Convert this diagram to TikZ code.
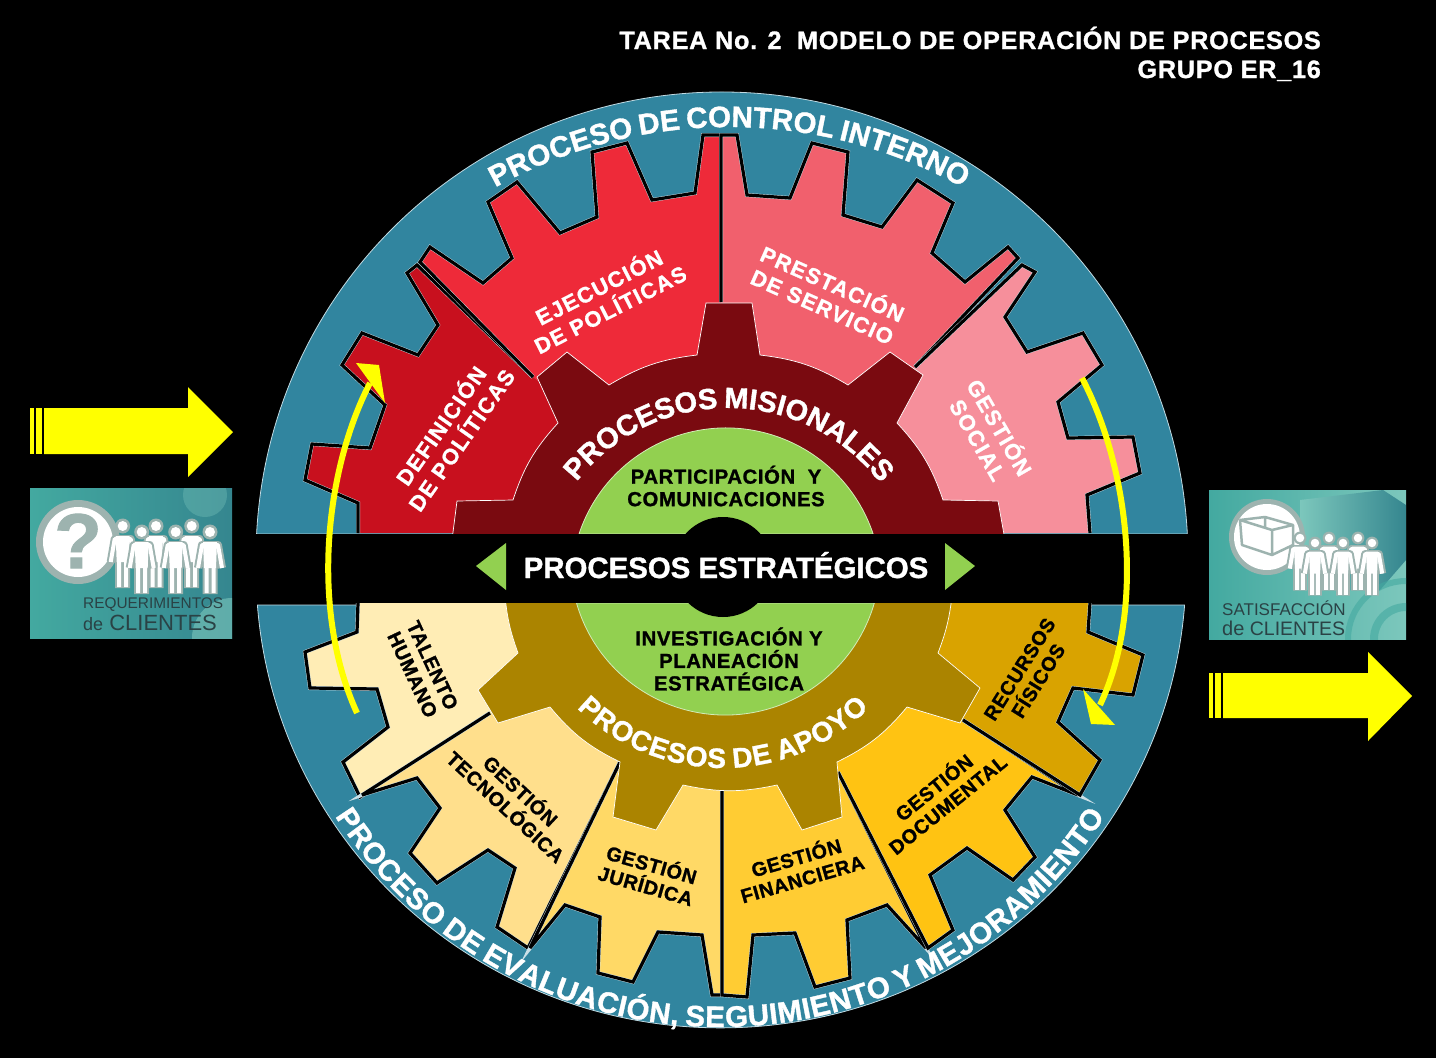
\documentclass[tikz,border=0pt]{standalone}
\usepackage{fontspec}
\setmainfont{Liberation Sans}[BoldFeatures={FakeBold=1.2}]
\newfontfamily\spacedfont{Liberation Sans}[LetterSpace=6,BoldFeatures={FakeBold=1.2}]
\newfontfamily\tinyspaced{Liberation Sans}[LetterSpace=3,BoldFeatures={FakeBold=1.2}]
\usetikzlibrary{decorations.text}
\definecolor{ringteal}{HTML}{31859F}
\definecolor{defred}{HTML}{C8101E}
\definecolor{ejered}{HTML}{EE2A39}
\definecolor{presred}{HTML}{F1606D}
\definecolor{socialred}{HTML}{F68F9B}
\definecolor{misionred}{HTML}{7A0A10}
\definecolor{coregreen}{HTML}{92D050}
\definecolor{apoyobrown}{HTML}{AB8400}
\definecolor{talentocol}{HTML}{FFEDB5}
\definecolor{tecnocol}{HTML}{FFDF8C}
\definecolor{juridcol}{HTML}{FFD966}
\definecolor{financol}{HTML}{FFCC33}
\definecolor{documcol}{HTML}{FFC312}
\definecolor{recurcol}{HTML}{D9A300}
\definecolor{arrowyellow}{HTML}{FFFF00}
\definecolor{boxteal}{HTML}{43A9A0}
\definecolor{boxdark}{HTML}{35868F}
\definecolor{boxlight}{HTML}{7CC7BC}
\definecolor{halogray}{HTML}{9DB3AF}
\definecolor{boxtext}{HTML}{2A4245}
\newcommand{\gearpiece}[3]{\fill[#1] #2 -- #3 -- cycle; \draw[toothline] #2;}
\newcommand{\ns}{\fontsize{21}{21}\selectfont}
\newcommand{\curvedtext}[4]{\def\cf{\fontsize{#1}{#1}\selectfont\bfseries}\path[decorate,decoration={text along path,text align={fit to path},text color=white,text={#2}}] #3 #4;}
\begin{document}
\begin{tikzpicture}
	[x=1pt,y=1pt,
		toothline/.style={draw=black,line width=3.2pt,line join=miter,miter limit=2,preaction={draw=white!75!ringteal,line width=4pt}},
		gearhub/.style={draw=white,line width=0.7pt,line join=miter},
		whitelabel/.style={align=center,text=white,inner sep=0pt,font=\spacedfont\bfseries\fontsize{22}{25}\selectfont},
		blacklabel/.style={align=center,text=black,inner sep=0pt,font=\tinyspaced\bfseries\fontsize{19.8}{22}\selectfont},
		corelabel/.style={align=center,text=black,inner sep=0pt,font=\tinyspaced\bfseries\fontsize{20.3}{22.5}\selectfont},
		titlelabel/.style={anchor=base east,text=white,inner sep=0pt,font=\tinyspaced\bfseries\fontsize{25.2}{29}\selectfont},
		boxlabel/.style={anchor=base west,text=boxtext,inner sep=0pt},
		curvearrow/.style={draw=arrowyellow,line width=6pt},
		persona/.pic={
			\fill[halogray] (0,0) circle (7.5);
			\draw[halogray,line width=8pt,line join=round] (-12,-36) -- (-8,-13) -- (8,-13) -- (12,-36) (-3.5,-13) -- (-3.5,-62) (3.5,-13) -- (3.5,-62);
			\fill[white] (0,0) circle (5);
			\fill[white] (-7,-10) -- (7,-10) -- (6,-36) -- (-6,-36) -- cycle;
			\draw[white,line width=4pt,line join=round] (-12,-36) -- (-8,-13) -- (8,-13) -- (12,-36) (-3.5,-30) -- (-3.5,-61) (3.5,-30) -- (3.5,-61);
		},
	]
	\fill[black] (0,0) rectangle (1436,-1058);
	\useasboundingbox (0,0) rectangle (1436,-1058);

	\filldraw[fill=ringteal,draw=white!70!ringteal,line width=0.8pt] (256.6,-534) arc[start angle=177.05,end angle=2.95,radius=466] -- cycle;
	\filldraw[fill=ringteal,draw=white!70!ringteal,line width=0.8pt] (257.4,-605) arc[start angle=184.4,end angle=355.6,x radius=465,y radius=458] -- cycle;

	\gearpiece{defred}{(358,-533) -- (358,-503) -- (305,-480) -- (312,-444) -- (370,-448) -- (385,-405) -- (342,-365) -- (362,-333) -- (418,-355) -- (438,-325) -- (407,-273) -- (417,-265) -- (533,-377)}{(728,-533)}
	\gearpiece{ejered}{(721,-302) -- (721,-135) -- (703,-135) -- (695,-193) -- (652,-200) -- (627,-143) -- (592,-152) -- (597,-217) -- (560,-233) -- (517,-182) -- (488,-202) -- (512,-258) -- (483,-283) -- (430,-247) -- (420,-262) -- (533,-377)}{(728,-533)}
	\gearpiece{presred}{(721,-302) -- (721,-135) -- (737,-135) -- (747,-195) -- (790,-198) -- (812,-143) -- (848,-152) -- (843,-215) -- (882,-227) -- (917,-180) -- (953,-203) -- (932,-253) -- (965,-282) -- (1008,-247) -- (1018,-258) -- (915,-367)}{(728,-533)}
	\gearpiece{socialred}{(915,-367) -- (1022,-265) -- (1035,-272) -- (1005,-317) -- (1027,-352) -- (1083,-333) -- (1102,-365) -- (1058,-402) -- (1068,-438) -- (1133,-437) -- (1140,-473) -- (1087,-495) -- (1090,-533)}{(728,-533)}

	\gearpiece{talentocol}{(358,-603) -- (357,-632) -- (305,-652) -- (310,-688) -- (377,-689) -- (388,-727) -- (343,-762) -- (360,-797) -- (490,-713)}{(728,-603)}
	\gearpiece{tecnocol}{(620,-762) -- (528,-948) -- (497,-927) -- (515,-868) -- (488,-850) -- (437,-883) -- (410,-853) -- (440,-808) -- (417,-778) -- (362,-795) -- (490,-713)}{(728,-603)}
	\gearpiece{juridcol}{(722,-790) -- (722,-995) -- (712,-995) -- (702,-935) -- (658,-932) -- (633,-982) -- (598,-973) -- (600,-917) -- (565,-905) -- (530,-948) -- (620,-762)}{(728,-603)}
	\gearpiece{financol}{(722,-790) -- (722,-995) -- (747,-997) -- (753,-935) -- (795,-933) -- (815,-987) -- (850,-978) -- (847,-920) -- (887,-905) -- (926,-948) -- (838,-772)}{(728,-603)}
	\gearpiece{documcol}{(838,-772) -- (928,-948) -- (953,-930) -- (930,-875) -- (967,-848) -- (1013,-880) -- (1035,-857) -- (1005,-810) -- (1032,-777) -- (1078,-795) -- (963,-720)}{(728,-603)}
	\gearpiece{recurcol}{(963,-720) -- (1080,-795) -- (1100,-760) -- (1058,-722) -- (1073,-688) -- (1133,-695) -- (1143,-655) -- (1088,-632) -- (1090,-603)}{(728,-603)}

	\filldraw[fill=misionred,gearhub] (452,-540) -- (457,-501) -- (513,-500) to[bend left=12] (558,-423) -- (537,-377) -- (567,-352) -- (609,-385) to[bend left=12] (697,-355) -- (706,-303) -- (752,-303) -- (760,-355) to[bend left=12] (848,-385) -- (890,-352) -- (923,-375) -- (897,-423) to[bend left=12] (943,-500) -- (998,-501) -- (1005,-540) -- cycle;
	\filldraw[fill=apoyobrown,gearhub] (505,-596) to[bend right=7] (518,-653) -- (478,-690) -- (498,-723) -- (550,-707) to[bend right=12] (620,-762) -- (613,-817) -- (656,-830) -- (683,-785) to[bend right=12] (777,-785) -- (802,-830) -- (842,-817) -- (837,-762) to[bend right=12] (907,-707) -- (960,-723) -- (980,-688) -- (938,-653) to[bend left=-7] (952,-596) -- cycle;

	\filldraw[fill=coregreen,draw=white!60!coregreen,line width=0.8pt] (579,-534) arc[start angle=161.6,end angle=18.4,radius=155] -- cycle;
	\filldraw[fill=coregreen,draw=white!60!coregreen,line width=0.8pt] (576.5,-603) arc[start angle=196.1,end angle=343.9,radius=155] -- cycle;
	\fill[black] (723,-567) circle (50);
	\fill[black] (0,-534) rectangle (1436,-603);
	\fill[black] (0,-603) rectangle (257,-606);
	\fill[black] (1185,-603) rectangle (1436,-606);

	\fill[coregreen] (476,-566) -- (506,-543) -- (506,-590) -- cycle;
	\fill[coregreen] (975,-566) -- (945,-543) -- (945,-590) -- cycle;
	\node[anchor=base,text=white,inner sep=0pt,font=\bfseries\fontsize{29.4}{31}\selectfont] (estrategicos) at (726,-578) {PROCESOS ESTRATÉGICOS};

	\curvedtext{29.5}{|\cf|PROCESO|\ns| |\cf|DE|\ns| |\cf|CONTROL|\ns| |\cf|INTERNO}{([shift={(119:482)}]729,-609)}{arc[start angle=119,end angle=61,radius=482]}
	\curvedtext{29.5}{|\cf|PROCESO|\ns| |\cf|DE|\ns| |\cf|EVALUACIÓN,|\ns| |\cf|SEGUIMIENTO|\ns| |\cf|Y|\ns| |\cf|MEJORAMIENTO}{([shift={(212.6:457)}]720,-570)}{arc[start angle=212.6,end angle=327.4,radius=457]}
	\curvedtext{29}{|\cf|PROCESOS|\ns| |\cf|MISIONALES}{([shift={(142:192)}]728,-600)}{arc[start angle=142,end angle=38,radius=192]}
	\curvedtext{28}{|\cf|PROCESOS|\ns| |\cf|DE|\ns| |\cf|APOYO}{([shift={(225.4:208)}]723,-560)}{arc[start angle=225.4,end angle=314.6,radius=208]}

	\node[whitelabel,rotate=55] (definicion) at (450,-432) {DEFINICIÓN\\DE POLÍTICAS};
	\node[whitelabel,rotate=27] (ejecucion) at (604,-297) {EJECUCIÓN\\DE POLÍTICAS};
	\node[whitelabel,rotate=-24] (prestacion) at (828,-294) {PRESTACIÓN\\DE SERVICIO};
	\node[whitelabel,rotate=-60] (social) at (990,-433) {GESTIÓN\\SOCIAL};

	\node[blacklabel,rotate=-65] (talento) at (422.5,-670) {TALENTO\\HUMANO};
	\node[blacklabel,rotate=-43] (tecno) at (514,-798) {GESTIÓN\\TECNOLÓGICA};
	\node[blacklabel,rotate=-16] (juridica) at (649,-874) {GESTIÓN\\JURÍDICA};
	\node[blacklabel,rotate=16] (financiera) at (799,-867) {GESTIÓN\\FINANCIERA};
	\node[blacklabel,rotate=39] (documental) at (940,-795) {GESTIÓN\\DOCUMENTAL};
	\node[blacklabel,rotate=58] (recursos) at (1029,-675) {RECURSOS\\FÍSICOS};

	\node[corelabel] (participa) at (726,-486) {PARTICIPACIÓN~~Y\\COMUNICACIONES};
	\node[corelabel] (investiga) at (729,-659) {INVESTIGACIÓN Y\\PLANEACIÓN\\ESTRATÉGICA};

	\node[titlelabel] (tarea) at (1321,-49) {TAREA No. 2~~MODELO DE OPERACIÓN DE PROCESOS};
	\node[titlelabel] (grupo) at (1321,-78) {GRUPO ER\_16};

	\draw[curvearrow] (357,-713) .. controls (310,-610) and (325,-470) .. (370,-383);
	\fill[arrowyellow] (356,-363) -- (379,-365) -- (385,-403) -- cycle;
	\draw[curvearrow] (1082,-378) .. controls (1130,-470) and (1145,-610) .. (1100,-705);
	\fill[arrowyellow] (1083,-689) -- (1115,-725) -- (1091,-724) -- cycle;

	\fill[arrowyellow] (30,-408) rectangle (34,-454);
	\fill[arrowyellow] (36,-408) rectangle (42,-454);
	\fill[arrowyellow] (44,-408) -- (188,-408) -- (188,-387) -- (233,-432) -- (188,-477) -- (188,-454) -- (44,-454) -- cycle;
	\fill[arrowyellow] (1209,-673) rectangle (1213,-718);
	\fill[arrowyellow] (1215,-673) rectangle (1221,-718);
	\fill[arrowyellow] (1223,-673) -- (1368,-673) -- (1368,-652) -- (1412,-696) -- (1368,-741) -- (1368,-718) -- (1223,-718) -- cycle;

	\begin{scope}
		\clip (30,-488) rectangle (232,-638);
		\shade[left color=boxteal,right color=boxdark] (30,-488) rectangle (232,-638);
		\fill[boxlight,opacity=.6] (232,-638) circle (40);
		\fill[boxlight,opacity=.35] (205,-495) circle (22);
	\end{scope}
	\fill[halogray] (78,-542) circle (42);
	\fill[white] (78,-542) circle (35);
	\node[text=halogray,inner sep=0pt,font=\bfseries\fontsize{78}{78}\selectfont] (pregunta) at (78,-541) {?};
	\foreach \px/\py in {122.7/526,156/526,191.7/526,141.7/532,175.7/532,210/532}
		\pic at (\px,-\py) {persona};
	\node[boxlabel,font=\fontsize{15.4}{16}\selectfont] (requerimientos) at (83,-608) {REQUERIMIENTOS};
	\node[boxlabel,font=\fontsize{22}{22}\selectfont] (clientesa) at (83,-630) {{\fontsize{18}{18}\selectfont de} CLIENTES};

	\begin{scope}
		\clip (1209,-490) rectangle (1406,-639);
		\shade[left color=boxteal,right color=boxlight] (1209,-490) rectangle (1406,-639);
		\shade[left color=boxlight,right color=boxdark] (1300,-500) -- (1383,-490) -- (1406,-505) -- (1406,-560) -- (1380,-590) -- (1300,-590) -- cycle;
		\draw[boxteal,opacity=.6,line width=8pt] (1406,-639) circle (32);
		\draw[boxteal,opacity=.6,line width=6pt] (1406,-639) circle (58);
	\end{scope}
	\fill[halogray] (1267,-537) circle (38);
	\fill[white] (1267,-537) circle (33);
	\draw[halogray,line width=2.5pt,line join=round] (1240,-520) -- (1265,-517) -- (1293,-525) -- (1293,-545) -- (1272,-555) -- (1242,-545) -- cycle (1240,-520) -- (1272,-530) -- (1293,-525) (1272,-530) -- (1272,-555) (1265,-517) -- (1265,-528);
	\foreach \px/\py in {1300/538,1329/538,1358/538,1315/543,1343/543,1372/543}
		\pic[scale=.85] at (\px,-\py) {persona};
	\node[boxlabel,font=\fontsize{17}{17}\selectfont] (satisfaccion) at (1222,-615) {SATISFACCIÓN};
	\node[boxlabel,font=\fontsize{19.5}{20}\selectfont] (clientesb) at (1222,-635) {{\fontsize{20}{20}\selectfont de} CLIENTES};
\end{tikzpicture}
\end{document}
